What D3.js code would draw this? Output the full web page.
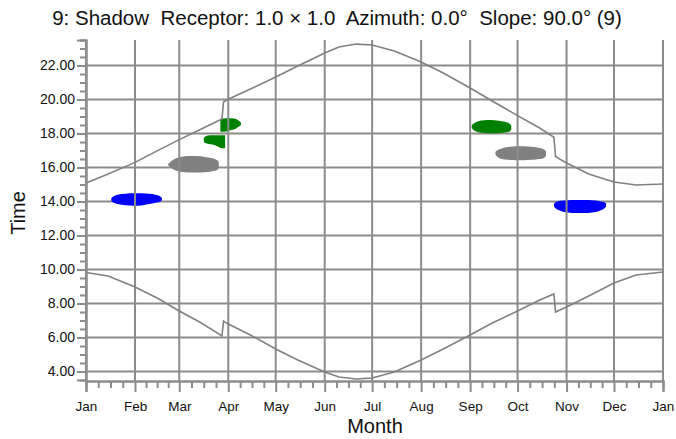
<!DOCTYPE html>
<html lang="en">
<head>
<meta charset="UTF-8">
<title>Shadow receptor</title>
<script src="https://cdn.jsdelivr.net/npm/d3@7/dist/d3.min.js"></script>
<style>
  body { margin: 0; background: #fff; font-family: Arial, "Liberation Sans", sans-serif; }
  svg text { white-space: pre; }
</style>
</head>
<body>
<script>
// month axis: day-of-year of each month start, and labels
const monthStarts = [0, 31, 59, 90, 120, 151, 181, 212, 243, 273, 304, 334, 365];
const monthLabels = ["Jan", "Feb", "Mar", "Apr", "May", "Jun", "Jul", "Aug", "Sep", "Oct", "Nov", "Dec", "Jan"];
const hourTicks = [4, 6, 8, 10, 12, 14, 16, 18, 20, 22];

// sunset curve [day, hour] (DST jump end of March / end of October)
const sunset = [
  [0, 15.09], [14, 15.62], [31, 16.3], [45, 16.98], [59, 17.64], [73, 18.26], [86, 18.86],
  [87, 19.85], [90, 20.02], [104, 20.62], [120, 21.32], [134, 21.97], [151, 22.74],
  [160, 23.09], [171, 23.26], [181, 23.21], [195, 22.85], [212, 22.2], [226, 21.56],
  [243, 20.68], [257, 19.91], [273, 19.05], [287, 18.32], [296, 17.78], [297, 16.65],
  [304, 16.26], [318, 15.62], [334, 15.15], [348, 14.97], [365, 15.03]
];
// sunrise curve [day, hour]
const sunrise = [
  [0, 9.82], [14, 9.62], [31, 8.97], [45, 8.32], [59, 7.56], [73, 6.85], [86, 6.09],
  [87, 6.97], [90, 6.79], [104, 6.15], [120, 5.32], [134, 4.68], [151, 3.97],
  [160, 3.68], [171, 3.56], [181, 3.62], [195, 3.97], [212, 4.68], [226, 5.32],
  [243, 6.15], [257, 6.85], [273, 7.56], [287, 8.21], [296, 8.56], [297, 7.5],
  [304, 7.79], [318, 8.44], [334, 9.21], [348, 9.68], [365, 9.85]
];

// shadow periods: [day, from hour, to hour]
const shadowBlueJan = [[16, 14.04, 14.2], [17, 13.95, 14.28], [20, 13.85, 14.4], [25, 13.78, 14.46],
  [30, 13.75, 14.48], [35, 13.77, 14.48], [40, 13.85, 14.45], [44, 13.92, 14.4], [47, 14.0, 14.3],
  [48, 14.07, 14.22]];
const shadowGrayMar = [[52, 16.12, 16.22], [53, 16.05, 16.3], [56, 15.85, 16.5], [60, 15.75, 16.62],
  [65, 15.7, 16.68], [70, 15.7, 16.68], [75, 15.72, 16.62], [80, 15.78, 16.55], [83, 15.85, 16.42],
  [84, 15.98, 16.32]];
const shadowGreenMar = [[74.5, 17.55, 17.72], [75, 17.45, 17.8], [77, 17.4, 17.88], [80, 17.35, 17.9],
  [83, 17.25, 17.9], [86, 17.13, 17.9], [88, 17.13, 17.9]];
const shadowGreenApr = [[85, 18.1, 18.85], [89, 18.12, 18.9], [92, 18.2, 18.9], [95, 18.3, 18.85],
  [97, 18.42, 18.72], [98, 18.5, 18.65]];
const shadowGreenSep = [[244, 18.32, 18.5], [245, 18.22, 18.58], [248, 18.08, 18.72], [252, 18.03, 18.78],
  [256, 18.02, 18.8], [260, 18.02, 18.76], [264, 18.05, 18.7], [268, 18.12, 18.58], [269, 18.25, 18.48]];
const shadowGrayOct = [[259, 16.75, 16.92], [260, 16.65, 17.0], [263, 16.5, 17.12], [267, 16.45, 17.2],
  [272, 16.42, 17.25], [277, 16.42, 17.25], [282, 16.45, 17.22], [287, 16.5, 17.15], [290, 16.58, 17.05],
  [291, 16.7, 16.95]];
const shadowBlueNov = [[296, 13.7, 13.86], [297, 13.6, 13.95], [300, 13.45, 14.05], [305, 13.35, 14.08],
  [310, 13.32, 14.09], [315, 13.32, 14.09], [320, 13.35, 14.08], [325, 13.45, 14.02], [328, 13.6, 13.95],
  [329, 13.7, 13.88]];

const shadows = [
  { pts: shadowBlueJan, color: "#0000ff" },
  { pts: shadowGrayMar, color: "#808080" },
  { pts: shadowGreenMar, color: "#008000" },
  { pts: shadowGreenApr, color: "#008000" },
  { pts: shadowGreenSep, color: "#008000" },
  { pts: shadowGrayOct, color: "#808080" },
  { pts: shadowBlueNov, color: "#0000ff" }
];

const W = 676, H = 439;
const plotLeft = 86, plotRight = 663, plotTop = 40, plotBottom = 381;
const gridColor = "#8c8c8c";

const svg = d3.select("body").append("svg").attr("width", W).attr("height", H);

const x = d3.scaleLinear().domain([0, 365]).range([plotLeft, plotRight]);
const y = d3.scaleLinear().domain([3.5, 23.5]).range([380, plotTop]);

// horizontal grid
svg.append("g").selectAll("line").data(hourTicks).join("line")
  .attr("x1", plotLeft).attr("x2", plotRight)
  .attr("y1", d => y(d)).attr("y2", d => y(d))
  .attr("stroke", gridColor).attr("stroke-width", 2);

// shadow blobs
const area = d3.area()
  .x(d => x(d[0])).y0(d => y(d[1])).y1(d => y(d[2]))
  .curve(d3.curveMonotoneX);
svg.append("g").selectAll("path").data(shadows).join("path")
  .attr("d", d => area(d.pts))
  .attr("fill", d => d.color);

// vertical grid
svg.append("g").selectAll("line").data(monthStarts).join("line")
  .attr("x1", d => x(d)).attr("x2", d => x(d))
  .attr("y1", plotTop).attr("y2", plotBottom)
  .attr("stroke", gridColor).attr("stroke-width", 2);

// sunrise / sunset lines
const line = d3.line().x(d => x(d[0])).y(d => y(d[1]));
[sunset, sunrise].forEach(s => {
  svg.append("path").attr("d", line(s))
    .attr("fill", "none").attr("stroke", "#808080").attr("stroke-width", 1.6);
});

// x axis: minor ticks (quarters of month) + month ticks
const minorX = [];
for (let i = 0; i < 12; i++) {
  const len = monthStarts[i + 1] - monthStarts[i];
  for (let k = 1; k < 4; k++) minorX.push(monthStarts[i] + len * k / 4);
}
const xAxis = svg.append("g").attr("transform", `translate(0,${plotBottom})`);
xAxis.call(d3.axisBottom(x).tickValues(minorX).tickSize(7).tickFormat(""));
xAxis.append("g").call(d3.axisBottom(x).tickValues(monthStarts).tickSize(11)
  .tickFormat((d, i) => monthLabels[i]));
xAxis.selectAll("path.domain").attr("stroke", gridColor).attr("stroke-width", 2);
xAxis.selectAll("line").attr("stroke", gridColor).attr("stroke-width", 2);
xAxis.selectAll("text").attr("font-size", 13.5).attr("font-family", "Arial, 'Liberation Sans'")
  .attr("fill", "#111").attr("dy", "1.15em");

// y axis: half-hour minor ticks + labelled even hours
const minorY = d3.range(4, 23.51, 0.5);
const yAxis = svg.append("g").attr("transform", `translate(${plotLeft},0)`);
yAxis.call(d3.axisLeft(y).tickValues(minorY).tickSize(6).tickFormat(""));
yAxis.append("g").call(d3.axisLeft(y).tickValues(hourTicks).tickSize(9)
  .tickFormat(d3.format(".2f")));
yAxis.selectAll("path.domain").attr("stroke", gridColor).attr("stroke-width", 2);
yAxis.selectAll("line").attr("stroke", gridColor).attr("stroke-width", 2);
yAxis.selectAll("text").attr("font-size", 14).attr("font-family", "Arial, 'Liberation Sans'")
  .attr("fill", "#111").attr("x", -11);

// title and axis labels
svg.append("text").attr("x", 337).attr("y", 25).attr("text-anchor", "middle")
  .attr("font-size", 20.5).attr("fill", "#111")
  .text("9: Shadow  Receptor: 1.0 \u00d7 1.0  Azimuth: 0.0\u00b0  Slope: 90.0\u00b0 (9)");
svg.append("text").attr("x", 375).attr("y", 433).attr("text-anchor", "middle")
  .attr("font-size", 20).attr("fill", "#111").text("Month");
svg.append("text").attr("transform", "translate(25,213) rotate(-90)").attr("text-anchor", "middle")
  .attr("font-size", 20).attr("fill", "#111").text("Time");
</script>
</body>
</html>
